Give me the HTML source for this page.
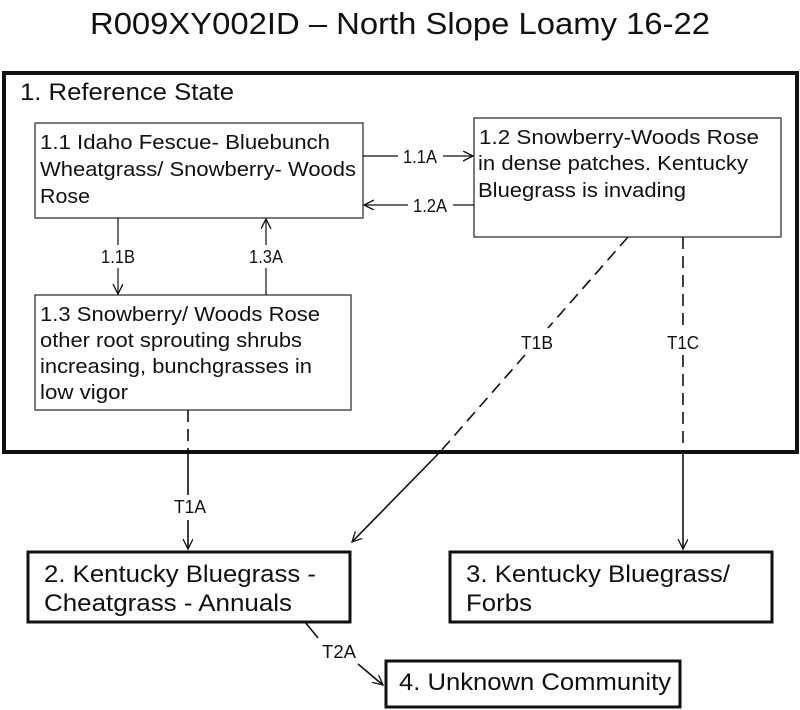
<!DOCTYPE html>
<html><head><style>html,body{margin:0;padding:0;background:#fff}svg{display:block}text{font-family:"Liberation Sans",Arial,sans-serif;fill:#111}</style></head>
<body>
<svg width="800" height="710" viewBox="0 0 800 710" xmlns="http://www.w3.org/2000/svg">
<defs><marker id="a" markerWidth="12" markerHeight="12" refX="10" refY="5" orient="auto" markerUnits="userSpaceOnUse"><path d="M0,0 L10,5 L0,10" fill="none" stroke="#111" stroke-width="1.3"/></marker></defs>
<text x="400" y="34" font-size="31" text-anchor="middle" textLength="620" lengthAdjust="spacingAndGlyphs">R009XY002ID – North Slope Loamy 16-22</text>
<rect x="4" y="73" width="793" height="379" fill="none" stroke="#111" stroke-width="4"/>
<text x="20" y="100" font-size="24" textLength="214" lengthAdjust="spacingAndGlyphs">1. Reference State</text>
<g fill="#fff" stroke="#333" stroke-width="1.3">
<rect x="35" y="123" width="328" height="95"/>
<rect x="474" y="118" width="307" height="119"/>
<rect x="35" y="295" width="316" height="115"/>
</g>
<g font-size="20">
<text x="40" y="149" textLength="290" lengthAdjust="spacingAndGlyphs">1.1 Idaho Fescue- Bluebunch</text>
<text x="40" y="176" textLength="316" lengthAdjust="spacingAndGlyphs">Wheatgrass/ Snowberry- Woods</text>
<text x="40" y="203" textLength="50" lengthAdjust="spacingAndGlyphs">Rose</text>
<text x="479" y="144" textLength="280" lengthAdjust="spacingAndGlyphs">1.2  Snowberry-Woods Rose</text>
<text x="478" y="170" textLength="270" lengthAdjust="spacingAndGlyphs">in dense patches. Kentucky</text>
<text x="478" y="197" textLength="208" lengthAdjust="spacingAndGlyphs">Bluegrass is invading</text>
<text x="40" y="321" textLength="280" lengthAdjust="spacingAndGlyphs">1.3 Snowberry/ Woods Rose</text>
<text x="40" y="347" textLength="262" lengthAdjust="spacingAndGlyphs">other root sprouting shrubs</text>
<text x="40" y="373" textLength="272" lengthAdjust="spacingAndGlyphs">increasing, bunchgrasses in</text>
<text x="40" y="399" textLength="88" lengthAdjust="spacingAndGlyphs">low vigor</text>
</g>
<g stroke="#111" stroke-width="1.2" fill="none">
<line x1="363" y1="156" x2="398" y2="156"/><line x1="443" y1="156" x2="473" y2="156" marker-end="url(#a)"/>
<line x1="474" y1="205" x2="453" y2="205"/><line x1="408" y1="205" x2="364" y2="205" marker-end="url(#a)"/>
<line x1="118" y1="218" x2="118" y2="245"/><line x1="118" y1="268" x2="118" y2="294" marker-end="url(#a)"/>
<line x1="266" y1="295" x2="266" y2="268"/><line x1="266" y1="245" x2="266" y2="219" marker-end="url(#a)"/>
</g>
<g stroke="#111" stroke-width="1.6" fill="none">
<line x1="188" y1="410" x2="188" y2="452" stroke-dasharray="12,7"/>
<line x1="188" y1="452" x2="188" y2="495"/><line x1="188" y1="520" x2="188" y2="549" marker-end="url(#a)"/>
<line x1="628" y1="237" x2="548" y2="328" stroke-dasharray="12,7"/>
<line x1="525" y1="355" x2="440" y2="452" stroke-dasharray="12,7"/>
<line x1="440" y1="452" x2="352" y2="542" marker-end="url(#a)"/>
<line x1="683" y1="237" x2="683" y2="328" stroke-dasharray="12,7"/>
<line x1="683" y1="355" x2="683" y2="452" stroke-dasharray="12,7"/>
<line x1="683" y1="452" x2="683" y2="549" marker-end="url(#a)"/>
<line x1="305" y1="622" x2="318" y2="638"/><line x1="358" y1="664" x2="383" y2="685" marker-end="url(#a)"/>
</g>
<g font-size="18">
<text x="420" y="163" text-anchor="middle" textLength="34" lengthAdjust="spacingAndGlyphs">1.1A</text>
<text x="430" y="212" text-anchor="middle" textLength="34" lengthAdjust="spacingAndGlyphs">1.2A</text>
<text x="118" y="263" text-anchor="middle" textLength="34" lengthAdjust="spacingAndGlyphs">1.1B</text>
<text x="266" y="263" text-anchor="middle" textLength="34" lengthAdjust="spacingAndGlyphs">1.3A</text>
<text x="190" y="513" text-anchor="middle" textLength="32" lengthAdjust="spacingAndGlyphs">T1A</text>
<text x="537" y="349" text-anchor="middle" textLength="32" lengthAdjust="spacingAndGlyphs">T1B</text>
<text x="683" y="349" text-anchor="middle" textLength="32" lengthAdjust="spacingAndGlyphs">T1C</text>
<text x="339" y="658" text-anchor="middle" textLength="34" lengthAdjust="spacingAndGlyphs">T2A</text>
</g>
<g fill="#fff" stroke="#111" stroke-width="3">
<rect x="28" y="552" width="322" height="70"/>
<rect x="450" y="552" width="322" height="70"/>
<rect x="386" y="661" width="294" height="46"/>
</g>
<g font-size="24">
<text x="44" y="582" textLength="272" lengthAdjust="spacingAndGlyphs">2. Kentucky Bluegrass -</text>
<text x="44" y="611" textLength="248" lengthAdjust="spacingAndGlyphs">Cheatgrass - Annuals</text>
<text x="466" y="582" textLength="264" lengthAdjust="spacingAndGlyphs">3. Kentucky Bluegrass/</text>
<text x="466" y="611" textLength="66" lengthAdjust="spacingAndGlyphs">Forbs</text>
<text x="399" y="690" textLength="272" lengthAdjust="spacingAndGlyphs">4. Unknown Community</text>
</g>
</svg>
</body></html>
